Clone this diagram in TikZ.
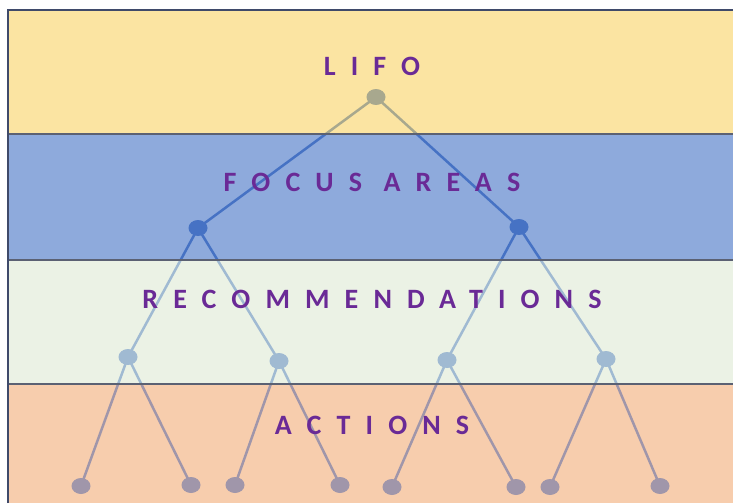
\documentclass[tikz,border=0pt]{standalone}
\usepackage{fontspec}
\setmainfont{Carlito}
\newfontfamily\bandfont{Carlito-Bold.ttf}[LetterSpace=54]
\usetikzlibrary{shapes.geometric}
\definecolor{bandyellow}{HTML}{FBE4A2}
\definecolor{bandblue}{HTML}{8EAADC}
\definecolor{bandgreen}{HTML}{EBF2E5}
\definecolor{bandorange}{HTML}{F7CDAD}
\definecolor{bandline}{HTML}{5B6173}
\definecolor{frameline}{HTML}{3F4A6A}
\definecolor{treeyellow}{RGB}{168,168,142}
\definecolor{treeblue}{RGB}{70,114,196}
\definecolor{treegreen}{RGB}{160,186,210}
\definecolor{treeorange}{RGB}{160,150,170}
\definecolor{titlepurple}{HTML}{6A2A96}
\begin{document}
\begin{tikzpicture}[x=1pt,y=-1pt,
 dot/.style={ellipse,minimum width=19pt,minimum height=16pt,inner sep=0pt},
 branch/.style={line width=2.5pt},
 level/.style={font=\bandfont\fontsize{28}{30}\selectfont,text=titlepurple}]
\useasboundingbox (0,0) rectangle (733,503);
% bands
\foreach \top/\bot/\col in {10/134/bandyellow,134/260/bandblue,260/384/bandgreen,384/503/bandorange}
 \fill[\col] (8,\top) rectangle (733,\bot);
% tree nodes
\node[dot] (lifo) at (376,97) {};
\foreach \n/\x/\y in {focus1/198/228,focus2/519/227}
 \node[dot] (\n) at (\x,\y) {};
\foreach \n/\x/\y in {rec1/128/357,rec2/279/361,rec3/447/360,rec4/606/359}
 \node[dot] (\n) at (\x,\y) {};
\foreach \n/\x/\y in {act1/81/486,act2/191/485,act3/235/485,act4/340/485,act5/392/487,act6/516/487,act7/550/487,act8/660/486}
 \node[dot] (\n) at (\x,\y) {};
% tree, tinted by the band it crosses
\foreach \top/\bot/\col in {10/134/treeyellow,134/260/treeblue,260/384/treegreen,384/503/treeorange}{
 \begin{scope}
 \clip (8,\top) rectangle (733,\bot);
 \foreach \a/\b in {lifo/focus1,lifo/focus2,focus1/rec1,focus1/rec2,focus2/rec3,focus2/rec4,
  rec1/act1,rec1/act2,rec2/act3,rec2/act4,rec3/act5,rec3/act6,rec4/act7,rec4/act8}
  \draw[branch,\col] (\a.center) -- (\b.center);
 \foreach \n in {lifo,focus1,focus2,rec1,rec2,rec3,rec4,act1,act2,act3,act4,act5,act6,act7,act8}
  \fill[\col] (\n.center) ellipse (9.5 and 8);
 \end{scope}
}
\foreach \y in {134,260,384}
 \draw[bandline,line width=1.5pt] (8,\y) -- (733,\y);
\draw[frameline,line width=1.5pt] (8,503) -- (8,10) -- (733,10);
% level titles
\node[level] (lifotitle) at (372,66) {LIFO};
\node[level] (focustitle) at (372,182) {FOCUS AREAS};
\node[level] (rectitle) at (372,299) {RECOMMENDATIONS};
\node[level] (acttitle) at (372,425) {ACTIONS};
\end{tikzpicture}
\end{document}
